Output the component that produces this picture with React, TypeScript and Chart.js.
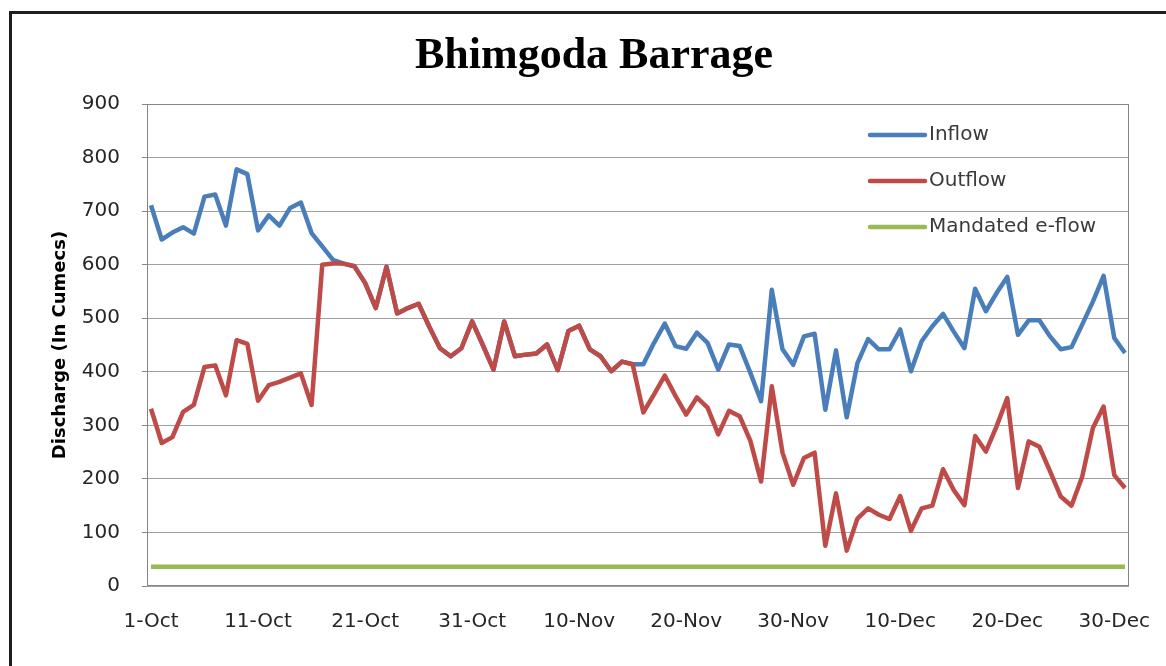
import React, { useEffect, useRef } from "react";
import { Chart, registerables } from "chart.js";

Chart.register(...registerables);

// ---------- data ----------
const MONTHS: [string, number][] = [
  ["Oct", 31],
  ["Nov", 30],
  ["Dec", 31],
];
const CATEGORIES: string[] = MONTHS.flatMap(([m, n]) =>
  Array.from({ length: n }, (_, d) => `${d + 1}-${m}`)
);

const TICK_LABELS = [
  "1-Oct", "11-Oct", "21-Oct", "31-Oct", "10-Nov",
  "20-Nov", "30-Nov", "10-Dec", "20-Dec", "30-Dec",
];

const SERIES_NAMES = ["Inflow", "Outflow", "Mandated e-flow"];

const INFLOW = [
  711, 647, 660, 670, 658, 727, 731, 673, 778, 769,
  664, 692, 673, 706, 716, 659, 634, 609, 602, 597,
  566, 519, 596, 509, 519, 527, 484, 444, 429, 444,
  494, 450, 404, 494, 429, 432, 434, 451, 403, 476,
  486, 442, 429, 401, 419, 414, 414, 454, 490, 448,
  443, 473, 454, 404, 451, 448, 398, 345, 553, 442,
  413, 466, 471, 329, 440, 315, 416, 461, 442, 442,
  479, 401, 457, 485, 508, 475, 444, 555, 513, 547,
  577, 469, 496, 496, 466, 442, 446, 488, 531, 579,
  463, 435,
];

const OUTFLOW = [
  331, 267, 278, 325, 338, 409, 412, 356, 459, 452,
  346, 375, 381, 389, 397, 338, 600, 602, 602, 597,
  566, 519, 596, 509, 519, 527, 484, 444, 429, 444,
  494, 450, 404, 494, 429, 432, 434, 451, 403, 476,
  486, 442, 429, 401, 419, 414, 324, 358, 393, 355,
  320, 352, 333, 283, 327, 317, 271, 195, 373, 249,
  189, 239, 249, 75, 173, 66, 126, 145, 133, 125,
  168, 103, 145, 150, 218, 179, 151, 280, 251, 298,
  351, 183, 270, 260, 214, 167, 150, 204, 295, 335,
  207, 183,
];

const EFLOW = [
  36, 36, 36, 36, 36, 36, 36, 36, 36, 36,
  36, 36, 36, 36, 36, 36, 36, 36, 36, 36,
  36, 36, 36, 36, 36, 36, 36, 36, 36, 36,
  36, 36, 36, 36, 36, 36, 36, 36, 36, 36,
  36, 36, 36, 36, 36, 36, 36, 36, 36, 36,
  36, 36, 36, 36, 36, 36, 36, 36, 36, 36,
  36, 36, 36, 36, 36, 36, 36, 36, 36, 36,
  36, 36, 36, 36, 36, 36, 36, 36, 36, 36,
  36, 36, 36, 36, 36, 36, 36, 36, 36, 36,
  36, 36,
];

const Y_MIN = 0;
const Y_MAX = 900;
const Y_STEP = 100;

// ---------- styles ----------
const COLORS = ["#4A7EBB", "#BE4B48", "#98B954"];
const SANS = "'DejaVu Sans', sans-serif";
const TEXT_COLOR = "#262626";

const toXY = (arr: number[]) => arr.map((y, i) => ({ x: i, y }));

const framePlugin = {
  id: "frameAndLegend",
  beforeDatasetsDraw(chart: any) {
    const { ctx, chartArea } = chart;
    ctx.save();
    ctx.strokeStyle = "#868686";
    ctx.lineWidth = 1;
    ctx.strokeRect(
      Math.round(chartArea.left) + 0.5,
      Math.round(chartArea.top) + 0.5,
      Math.round(chartArea.right - chartArea.left) - 1,
      Math.round(chartArea.bottom - chartArea.top) - 1
    );
    ctx.restore();
  },
  afterDraw(chart: any) {
    const { ctx } = chart;
    const x0 = 870;
    const x1 = 925;
    const tx = 929;
    const y0 = 135;
    const dy = 46;
    ctx.save();
    chart.data.datasets.forEach((ds: any, i: number) => {
      const y = y0 + i * dy;
      ctx.strokeStyle = ds.borderColor;
      ctx.lineWidth = 4.5;
      ctx.lineCap = "round";
      ctx.beginPath();
      ctx.moveTo(x0, y);
      ctx.lineTo(x1, y);
      ctx.stroke();
      ctx.fillStyle = "#3a3a3a";
      ctx.font = `20px ${SANS}`;
      ctx.textBaseline = "middle";
      ctx.textAlign = "left";
      ctx.fillText(ds.label, tx, y);
    });
    ctx.restore();
  },
};

export default function App() {
  const ref = useRef<HTMLCanvasElement | null>(null);

  useEffect(() => {
    if (!ref.current) return;
    const pad = 0.374;
    const chart = new Chart(ref.current, {
      type: "line",
      data: {
        datasets: [
          {
            label: SERIES_NAMES[0],
            data: toXY(INFLOW),
            borderColor: COLORS[0],
            backgroundColor: COLORS[0],
            borderWidth: 4.5,
            pointRadius: 0,
            tension: 0,
            borderJoinStyle: "round",
            order: 3,
          },
          {
            label: SERIES_NAMES[1],
            data: toXY(OUTFLOW),
            borderColor: COLORS[1],
            backgroundColor: COLORS[1],
            borderWidth: 4.5,
            pointRadius: 0,
            tension: 0,
            borderJoinStyle: "round",
            order: 2,
          },
          {
            label: SERIES_NAMES[2],
            data: toXY(EFLOW),
            borderColor: COLORS[2],
            backgroundColor: COLORS[2],
            borderWidth: 4.5,
            pointRadius: 0,
            tension: 0,
            order: 1,
          },
        ],
      },
      options: {
        responsive: false,
        animation: false,
        devicePixelRatio: 1,
        layout: { padding: { left: 59, right: 37, top: 10, bottom: 0 } },
        plugins: {
          legend: { display: false },
          tooltip: { enabled: false },
          title: {
            display: true,
            text: "Bhimgoda Barrage",
            color: "#000",
            font: { family: "'Liberation Serif', serif", size: 44, weight: "bold" },
            padding: { top: 20, bottom: 21.2 },
          },
        },
        scales: {
          x: {
            type: "linear",
            min: -pad,
            max: CATEGORIES.length - 1 + pad,
            afterBuildTicks: (s: any) => {
              s.ticks = TICK_LABELS.map((l) => ({ value: CATEGORIES.indexOf(l) }));
            },
            afterFit: (s: any) => {
              s.height = 80;
              s.paddingLeft = 0;
              s.paddingRight = 0;
            },
            grid: { display: false, drawTicks: false },
            border: { display: false },
            ticks: {
              autoSkip: false,
              maxRotation: 0,
              padding: 24,
              color: TEXT_COLOR,
              font: { family: SANS, size: 20 },
              callback: (v: any) => CATEGORIES[Math.round(Number(v))] ?? "",
            },
          },
          y: {
            min: Y_MIN,
            max: Y_MAX,
            afterFit: (s: any) => {
              s.width = 88;
              s.paddingTop = 0;
              s.paddingBottom = 0;
            },
            grid: {
              color: "#a0a0a0",
              lineWidth: 1,
              drawTicks: true,
              tickLength: 5,
              tickColor: "#868686",
            },
            border: { display: false },
            ticks: {
              stepSize: Y_STEP,
              padding: 22,
              color: TEXT_COLOR,
              font: { family: SANS, size: 20 },
            },
            title: {
              display: true,
              text: "Discharge (In Cumecs)",
              color: "#000",
              font: { family: SANS, size: 18, weight: "bold" },
              padding: { top: -9, bottom: 0 },
            },
          },
        },
      },
      plugins: [framePlugin],
    } as any);
    return () => chart.destroy();
  }, []);

  return (
    <div
      style={{
        position: "fixed",
        left: 0,
        top: 0,
        width: 1166,
        height: 666,
        overflow: "hidden",
        background: "#fff",
      }}
    >
      <canvas ref={ref} width={1166} height={666} style={{ display: "block", width: 1166, height: 666 }} />
      <div
        style={{
          position: "absolute",
          left: 9,
          top: 11,
          width: 1200,
          height: 700,
          border: "3px solid #1e1e1e",
          pointerEvents: "none",
        }}
      />
    </div>
  );
}
